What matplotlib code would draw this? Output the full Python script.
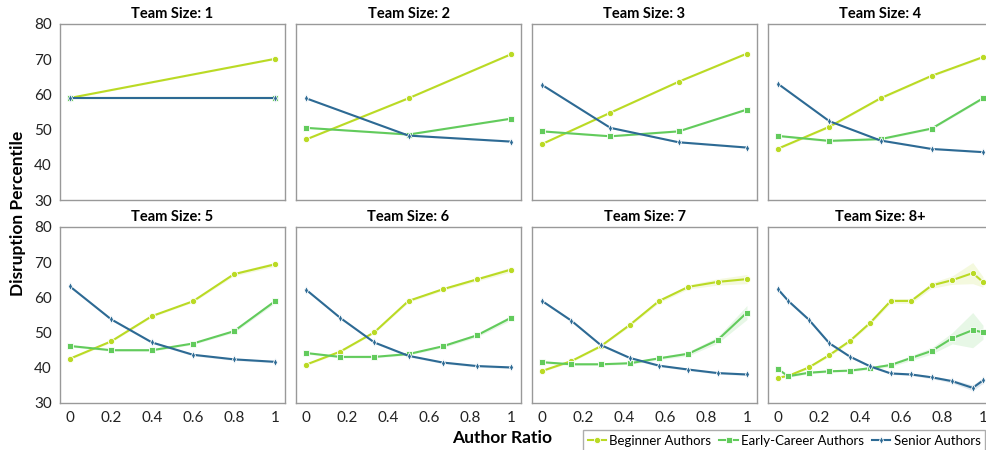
import matplotlib.pyplot as plt

plt.rcParams['font.family'] = ['Lato', 'DejaVu Sans']

team_sizes = ['1', '2', '3', '4', '5', '6', '7', '8+']

ratios = [
    [0, 1],
    [0, 0.5, 1],
    [0, 1/3, 2/3, 1],
    [0, 0.25, 0.5, 0.75, 1],
    [0, 0.2, 0.4, 0.6, 0.8, 1],
    [0, 1/6, 2/6, 3/6, 4/6, 5/6, 1],
    [0, 1/7, 2/7, 3/7, 4/7, 5/7, 6/7, 1],
    [0, 0.05, 0.15, 0.25, 0.35, 0.45, 0.55, 0.65, 0.75, 0.85, 0.95, 1],
]

beginner = [
    [59.0, 70.1],
    [47.2, 58.9, 71.4],
    [45.9, 54.8, 63.6, 71.6],
    [44.6, 50.8, 58.9, 65.3, 70.6],
    [42.6, 47.5, 54.7, 58.9, 66.6, 69.4],
    [40.9, 44.6, 50.1, 59.0, 62.3, 65.1, 67.9],
    [39.1, 41.9, 46.1, 52.2, 59.0, 63.0, 64.4, 65.2],
    [37.2, 37.7, 40.1, 43.6, 47.6, 52.8, 59.0, 59.0, 63.4, 64.9, 66.9, 64.4],
]
early_career = [
    [59.0, 59.0],
    [50.5, 48.6, 53.1],
    [49.5, 48.1, 49.5, 55.7],
    [48.2, 46.8, 47.3, 50.3, 58.9],
    [46.2, 45.0, 45.0, 46.9, 50.4, 58.9],
    [44.2, 43.1, 43.1, 43.9, 46.1, 49.2, 54.2],
    [41.6, 41.0, 41.0, 41.3, 42.7, 44.0, 47.9, 55.7],
    [39.6, 37.6, 38.6, 39.0, 39.2, 39.9, 40.8, 42.8, 44.8, 48.4, 50.7, 50.1],
]
senior = [
    [58.9, 58.9],
    [58.9, 48.3, 46.6],
    [62.7, 50.5, 46.4, 44.9],
    [63.0, 52.4, 46.9, 44.5, 43.6],
    [63.1, 53.8, 47.2, 43.7, 42.4, 41.7],
    [62.2, 54.2, 47.2, 43.4, 41.5, 40.5, 40.1],
    [59.0, 53.4, 46.5, 42.8, 40.6, 39.5, 38.5, 38.1],
    [62.3, 59.0, 53.7, 47.0, 43.2, 40.4, 38.4, 38.1, 37.3, 36.2, 34.3, 36.4],
]

# half-width of the shaded confidence band
beginner_ci = [
    [0.2] * 2, [0.2] * 3, [0.2] * 4, [0.3] * 5,
    [0.3, 0.3, 0.3, 0.3, 0.5, 0.6],
    [0.3, 0.3, 0.3, 0.4, 0.4, 0.5, 0.7],
    [0.3, 0.3, 0.3, 0.4, 0.5, 0.6, 0.9, 1.3],
    [0.3, 0.3, 0.3, 0.4, 0.4, 0.5, 0.6, 0.7, 0.8, 1.2, 3.0, 1.5],
]
early_ci = [
    [0.2] * 2, [0.2] * 3, [0.2] * 4, [0.3] * 5,
    [0.3, 0.3, 0.3, 0.3, 0.4, 0.6],
    [0.3, 0.3, 0.3, 0.3, 0.4, 0.5, 0.7],
    [0.3, 0.3, 0.3, 0.3, 0.4, 0.6, 0.9, 2.0],
    [0.3, 0.3, 0.3, 0.3, 0.3, 0.4, 0.5, 0.7, 0.9, 1.6, 5.0, 2.0],
]
senior_ci = [
    [0.2] * 2, [0.2] * 3, [0.2] * 4, [0.2] * 5,
    [0.3] * 6, [0.3] * 7, [0.3] * 8,
    [0.4, 0.4, 0.4, 0.4, 0.3, 0.3, 0.3, 0.3, 0.4, 0.5, 0.8, 0.8],
]

col_beg = '#bada24'
col_early = '#62cb5c'
col_sen = '#2d6a94'

series = [
    ('Beginner Authors', beginner, beginner_ci, col_beg, 'o', 4.5),
    ('Early-Career Authors', early_career, early_ci, col_early, 's', 4.5),
    ('Senior Authors', senior, senior_ci, col_sen, 'd', 4.0),
]

fig = plt.figure(figsize=(9.86, 4.5), dpi=100)

W, H = 986, 450
col_left = [60, 296, 532, 768]
row_top = [24, 227]
aw, ah = 225, 176

for i, ts in enumerate(team_sizes):
    r, c = divmod(i, 4)
    ax = fig.add_axes([col_left[c] / W, 1 - (row_top[r] + ah) / H, aw / W, ah / H])
    x = ratios[i]
    for name, vals, ci, color, mk, ms in series:
        lo = [v - e for v, e in zip(vals[i], ci[i])]
        hi = [v + e for v, e in zip(vals[i], ci[i])]
        ax.fill_between(x, lo, hi, color=color, alpha=0.15, linewidth=0)
        ax.plot(x, vals[i], marker=mk, color=color, linewidth=1.5, markersize=ms,
                markeredgecolor='white', markeredgewidth=0.6, label=name)
    ax.set_xlim(-0.049, 1.049)
    ax.set_ylim(30, 80)
    ax.set_yticks([30, 40, 50, 60, 70, 80])
    ax.set_xticks([0, 0.2, 0.4, 0.6, 0.8, 1])
    ax.set_xticklabels(['0', '0.2', '0.4', '0.6', '0.8', '1'])
    ax.tick_params(length=0, labelsize=11, colors='#222222', pad=6)
    if c != 0:
        ax.set_yticklabels([])
    if r == 0:
        ax.set_xticklabels([])
    for s in ax.spines.values():
        s.set_color('#999999')
        s.set_linewidth(1.0)
    ax.set_title(f'Team Size: {ts}', fontsize=10.5, fontweight='bold', pad=4)

fig.text(18 / W, 1 - 213 / H, 'Disruption Percentile', rotation=90, ha='center', va='center',
         fontsize=12.5, fontweight='bold')
fig.text(502 / W, 1 - 438 / H, 'Author Ratio', ha='center', va='center',
         fontsize=12.5, fontweight='bold')

handles, labels = fig.axes[0].get_legend_handles_labels()
fig.legend(handles, labels, loc='upper left', bbox_to_anchor=(583 / W, 1 - 430 / H),
           ncol=3, fontsize=9.5, frameon=True, fancybox=False, edgecolor='#999999',
           handlelength=1.4, handletextpad=0.25, columnspacing=0.6, borderpad=0.35,
           borderaxespad=0)

fig.savefig('out.png', dpi=100)
